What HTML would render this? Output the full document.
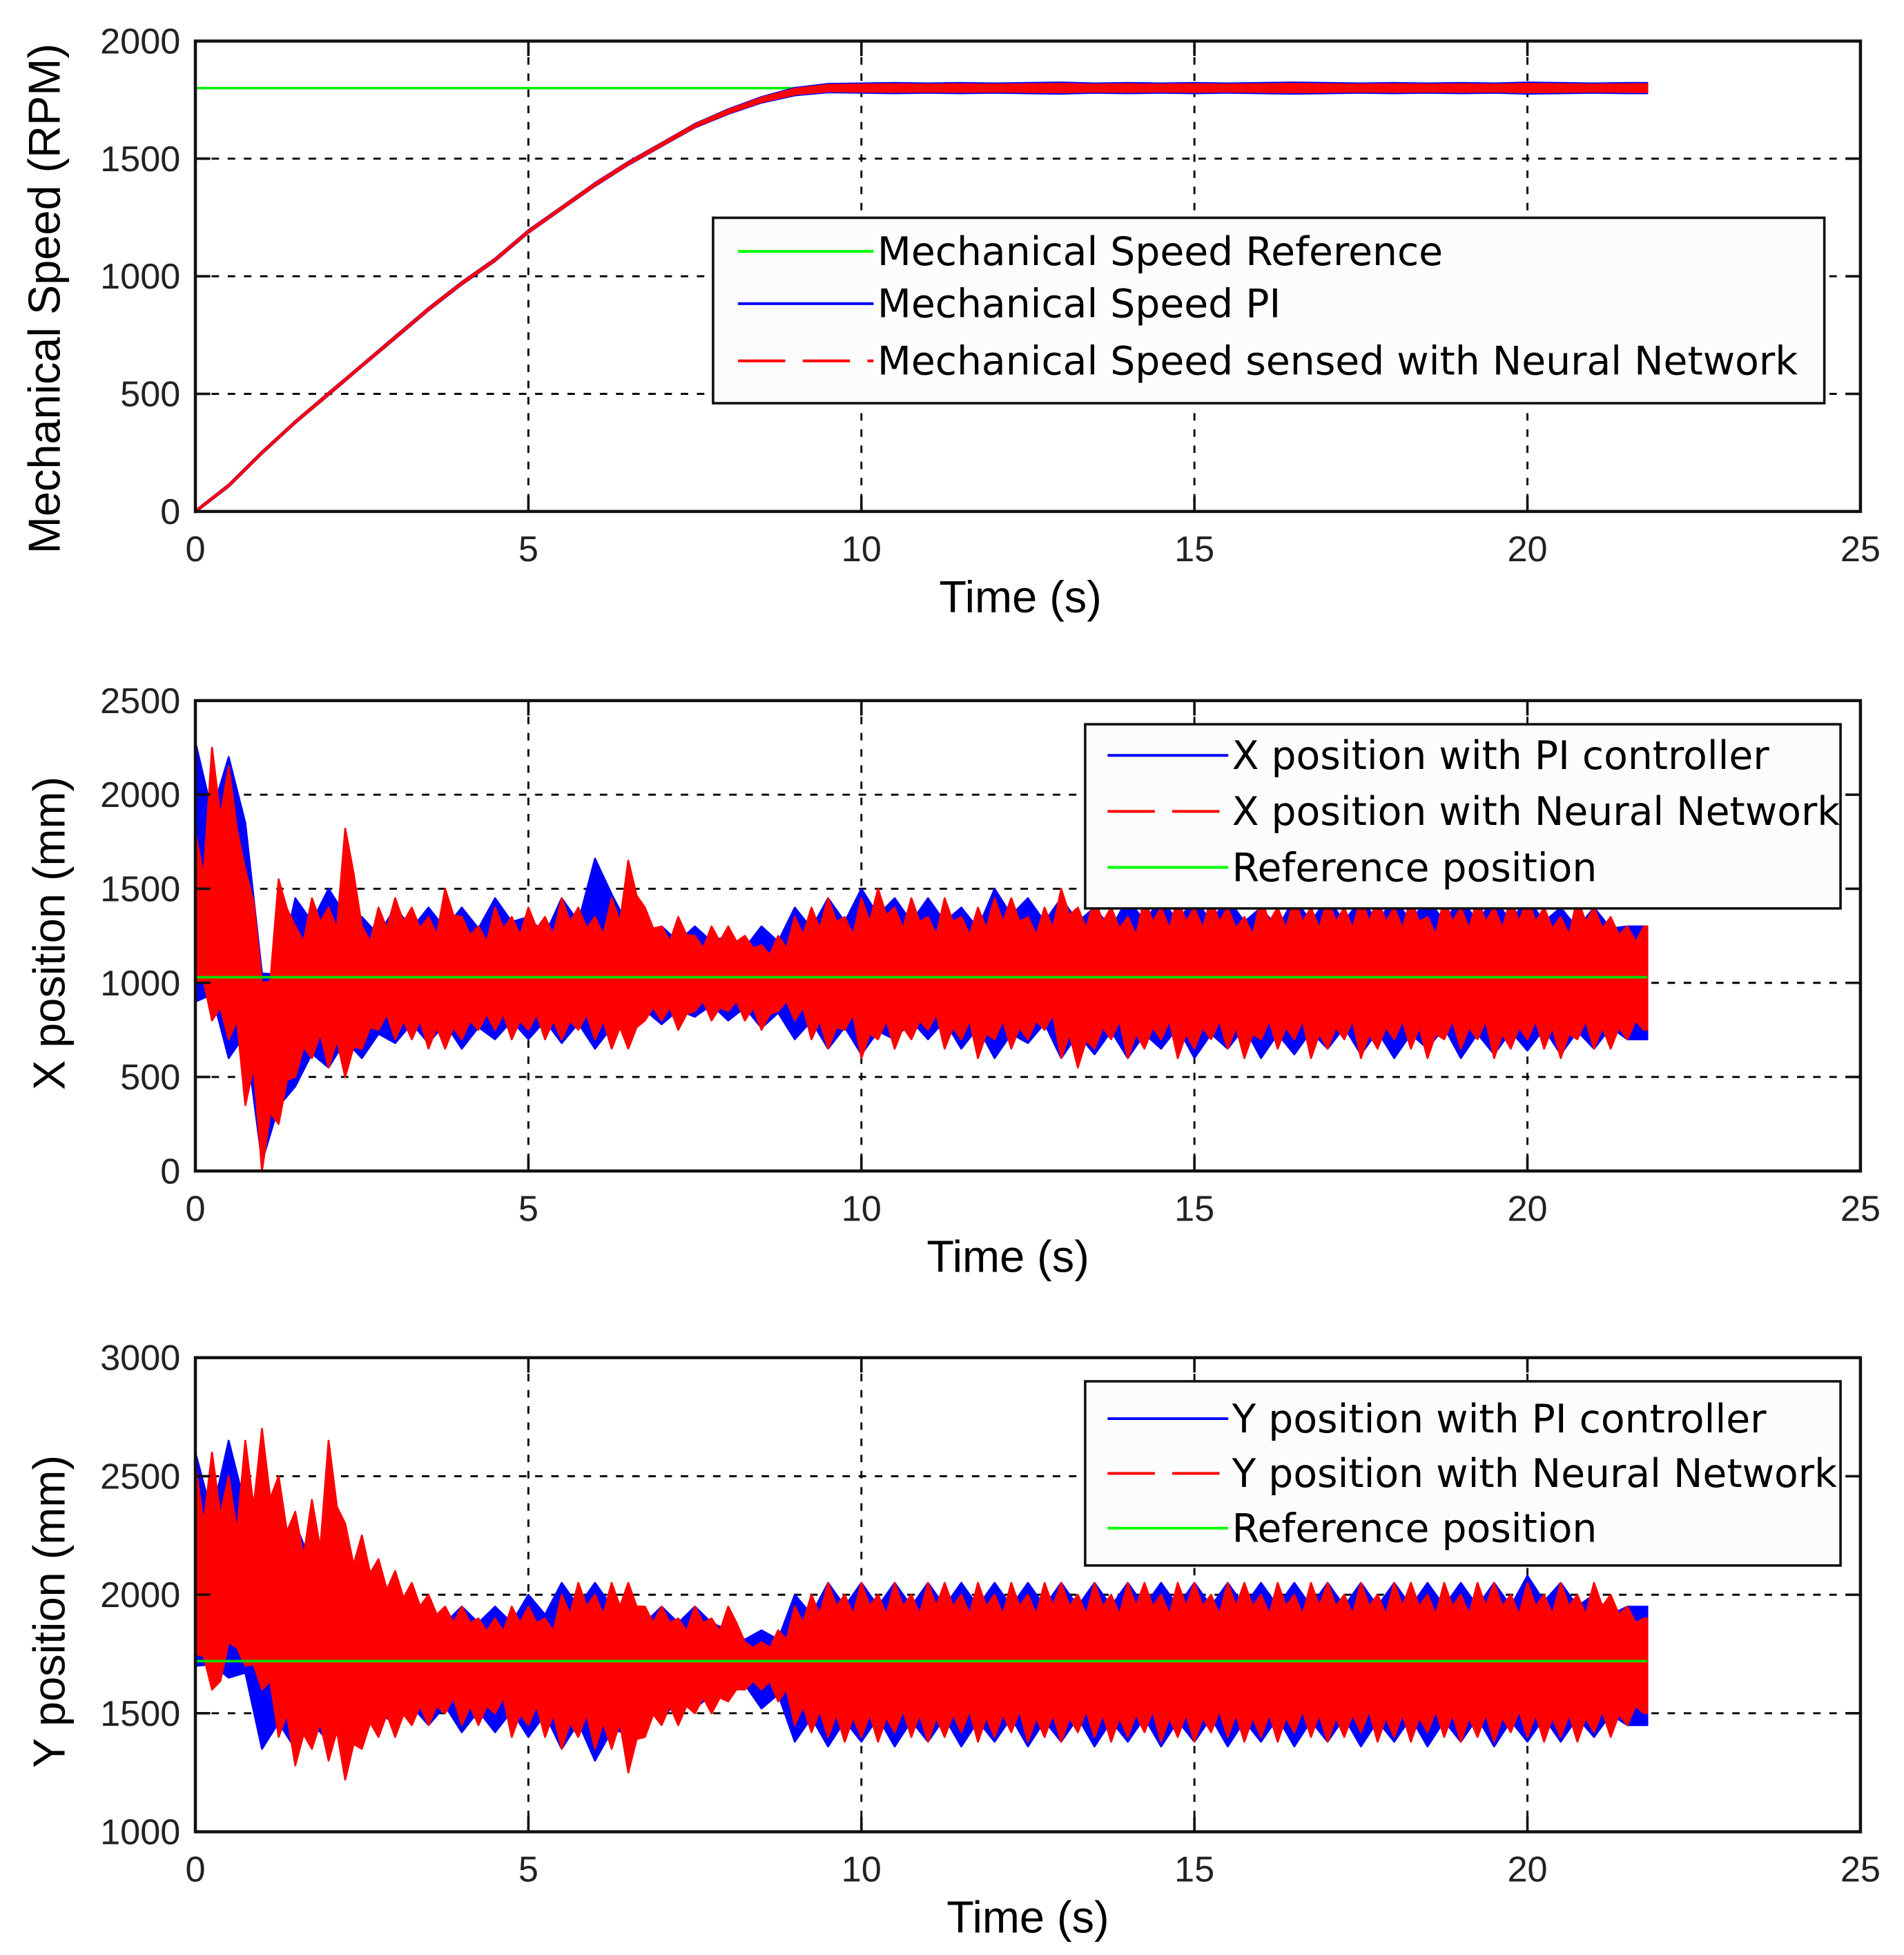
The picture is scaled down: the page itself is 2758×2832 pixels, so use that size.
<!DOCTYPE html>
<html><head><meta charset="utf-8">
<style>
html,body{margin:0;padding:0;background:#fff;}
svg{display:block;}
text{font-family:"Liberation Sans",Arial,sans-serif;}
.leg{font-family:"DejaVu Sans","Liberation Sans",sans-serif;font-size:31.5px;fill:#000;}
</style></head>
<body>
<svg id="fig" xmlns="http://www.w3.org/2000/svg" width="2758" height="2832" viewBox="0 0 1530 1571" preserveAspectRatio="none"></svg>
<script>
// ---------- data ----------
const xTicks = [0,5,10,15,20,25];
const speedTicks = [0,500,1000,1500,2000];
const xposTicks = [0,500,1000,1500,2000,2500];
const yposTicks = [1000,1500,2000,2500,3000];
// speed samples every 0.5 s
const speedPI = [0,110,250,380,500,620,740,860,970,1070,1190,1290,1390,1480,1560,1640,1700,1750,1785,1800,1800,1800,1800,1800,1800,1800,1800,1800,1800,1800,1800,1800,1800,1800,1800,1800,1800,1800,1800,1800,1800,1800,1800,1800];
const speedBand = [4,5,5,5,6,5,6,6,6,6,6,6,7,7,7,8,10,12,16,18,20,22,20,22,20,22,24,20,22,20,22,20,22,24,22,20,22,20,22,20,24,22,20,22];
const speedRef = 1800;
const xRef = 1030;
const yRef = 1720;
// X position envelope every 0.25 s
const xRedHi = [1800,2250,2150,1600,1000,1550,1300,1450,1400,1820,1300,1400,1450,1400,1350,1500,1350,1300,1400,1350,1400,1350,1450,1400,1350,1450,1650,1400,1300,1350,1250,1300,1300,1250,1200,1250,1350,1400,1450,1350,1450,1500,1400,1450,1350,1450,1350,1400,1450,1450,1350,1400,1500,1400,1450,1400,1350,1450,1400,1450,1400,1450,1400,1350,1450,1400,1450,1400,1450,1400,1450,1450,1400,1450,1350,1450,1400,1450,1400,1450,1450,1400,1350,1450,1400,1350,1300,1300];
const xRedLo = [1000,800,700,350,0,250,500,600,550,500,650,750,700,700,650,650,700,750,750,700,750,700,700,750,700,650,650,800,800,750,850,800,850,800,750,850,800,700,650,750,600,700,650,700,750,650,700,600,700,650,700,750,600,550,650,700,600,650,700,600,650,700,650,600,700,650,700,600,650,700,600,650,700,650,600,700,650,700,600,650,700,650,600,700,650,650,700,750];
const xBlueHi = [2280,2200,1050,1450,1500,1350,1400,1400,1400,1450,1350,1450,1660,1300,1300,1300,1250,1300,1400,1450,1500,1450,1450,1400,1500,1450,1450,1400,1450,1450,1450,1450,1400,1450,1450,1450,1450,1450,1450,1450,1450,1400,1400,1300];
const xBlueLo = [900,600,50,450,550,600,680,680,650,700,700,680,650,780,780,820,800,760,700,650,620,700,700,650,600,680,600,620,600,650,600,650,600,620,650,620,600,650,600,620,640,620,650,700];
// Y position envelope every 0.25 s
const yRedHi = [2550,2600,2500,2650,2700,2500,2350,2400,2650,2300,2250,2150,2100,2050,2000,1950,1950,1900,1900,1950,1950,1900,2000,2050,2000,2050,2050,1950,1950,1900,1950,1900,1950,1800,1800,1850,1950,2000,2050,2000,2050,2000,2050,2000,2050,2050,2000,2050,2000,2050,2000,2050,2050,2000,2050,2000,2050,2050,2000,2050,2050,2000,2050,2050,2000,2050,2000,2050,2050,2000,2050,2000,2050,2050,2000,2050,2000,2050,2050,2000,2050,2000,2050,2000,2050,2000,1950,1900];
const yRedLo = [1750,1600,1800,1700,1600,1400,1280,1350,1300,1220,1350,1400,1400,1450,1450,1500,1450,1450,1500,1400,1450,1400,1350,1400,1350,1350,1250,1400,1450,1450,1500,1500,1550,1600,1600,1550,1450,1420,1400,1380,1400,1380,1420,1400,1380,1400,1420,1380,1400,1420,1380,1400,1380,1420,1400,1380,1400,1420,1380,1400,1380,1420,1400,1380,1400,1380,1420,1400,1380,1400,1420,1380,1400,1380,1420,1400,1380,1400,1380,1420,1400,1380,1400,1380,1420,1400,1450,1500];
const yBlueHi = [2600,2650,2400,2300,2200,2050,2000,1950,1950,1950,2000,2050,2050,1950,1950,1950,1850,1850,2000,2050,2050,2050,2050,2050,2050,2050,2050,2050,2050,2050,2050,2050,2050,2050,2050,2050,2050,2050,2050,2050,2080,2050,2000,1950];
const yBlueLo = [1700,1650,1350,1350,1380,1420,1450,1450,1420,1420,1400,1350,1300,1420,1480,1520,1580,1520,1380,1360,1380,1360,1380,1360,1380,1360,1380,1360,1380,1360,1380,1360,1380,1360,1380,1360,1380,1360,1380,1360,1380,1380,1400,1450];

// ---------- drawing ----------
const NS = "http://www.w3.org/2000/svg";
const svg = document.getElementById('fig');
function mk(tag, attrs, parent){
  const e = document.createElementNS(NS, tag);
  for (const k in attrs) e.setAttribute(k, attrs[k]);
  (parent||svg).appendChild(e);
  return e;
}
function chart(cfg){
  const g = mk('g', {});
  
  
  const L=157, R=1495, T=cfg.top, B=cfg.bottom;
  const y0=cfg.yTicks[0], y1=cfg.yTicks[cfg.yTicks.length-1];
  const sx = t => L + (t-0)/(25-0)*(R-L);
  const sy = v => B - (v-y0)/(y1-y0)*(B-T);
  xTicks.forEach(t=>{
    if (t>0 && t<25){
      const l = mk('line',{x1:sx(t),x2:sx(t),y1:T,y2:B,stroke:'#000','stroke-width':1.6,'stroke-dasharray':'6,7'},g);
      
      
    }
    const tx = mk('text',{x:sx(t),y:B+40,'font-size':29,'text-anchor':'middle',fill:'#222'},g);
    tx.textContent = t;
    
    
  });
  cfg.yTicks.forEach(v=>{
    if (v>y0 && v<y1){
      const l = mk('line',{x1:L,x2:R,y1:sy(v),y2:sy(v),stroke:'#000','stroke-width':1.6,'stroke-dasharray':'6,7'},g);
      
      
    }
    const tx = mk('text',{x:L-12,y:sy(v)+10,'font-size':29,'text-anchor':'end',fill:'#222'},g);
    tx.textContent = v;
    
    
  });
  cfg.draw(g, sx, sy);
  const box = mk('rect',{x:L,y:T,width:R-L,height:B-T,fill:'none',stroke:'#111','stroke-width':2.5},g);
  
  
  xTicks.forEach(t=>{ mk('line',{x1:sx(t),x2:sx(t),y1:B,y2:B-12,stroke:'#111','stroke-width':2},g); mk('line',{x1:sx(t),x2:sx(t),y1:T,y2:T+12,stroke:'#111','stroke-width':2},g); });
  cfg.yTicks.forEach(v=>{ mk('line',{x1:L,x2:L+12,y1:sy(v),y2:sy(v),stroke:'#111','stroke-width':2},g); mk('line',{x1:R,x2:R-12,y1:sy(v),y2:sy(v),stroke:'#111','stroke-width':2},g); });
  const xl = mk('text',{x:cfg.xlx,y:B+81,'font-size':36,'text-anchor':'middle',fill:'#000'},g);
  xl.textContent = 'Time (s)';
  
  
  const yl = mk('text',{x:0,y:0,'font-size':36,'text-anchor':'middle',fill:'#000',transform:`translate(${cfg.ylx},${cfg.yly}) rotate(-90)`},g);
  yl.textContent = cfg.ylabel;
  
  
  const lg = cfg.legend;
  const lgr = mk('rect',{x:lg.x,y:lg.y,width:lg.w,height:lg.h,fill:'#fcfcfc',stroke:'#111','stroke-width':2},g);
  
  
  lg.items.forEach((it,i)=>{
    const yy = lg.rows[i];
    const ln = mk('line',{x1:lg.lx1,x2:lg.lx2,y1:yy,y2:yy,stroke:it.c,'stroke-width':2.2},g);
    if (it.dash) ln.setAttribute('stroke-dasharray','38,14');
    
    
    const tx = mk('text',{x:lg.lx2+3,y:yy+11,'class':'leg'},g);
    tx.textContent = it.t;
    
    
  });
}
function band(g, sx, sy, hi, lo, dt, ref, color, name, tmax){
  let up=[], dn=[];
  const n=Math.min(hi.length, lo.length);
  for(let i=0;i<n;i++){
    const t=Math.min(i*dt,tmax);
    up.push(sx(t)+','+sy(hi[i]));
    dn.push(sx(t)+','+sy(lo[i]));
    if(i<n-1 && ref!==null){
      const tm=Math.min(i*dt+dt/2,tmax);
      up.push(sx(tm)+','+sy(0.7*hi[i]+0.3*ref));
      dn.push(sx(tm)+','+sy(0.7*lo[i]+0.3*ref));
    }
  }
  const last=Math.min((n-1)*dt,tmax);
  if (last<tmax){ up.push(sx(tmax)+','+sy(hi[n-1])); dn.push(sx(tmax)+','+sy(lo[n-1])); }
  const p = mk('polygon',{points:up.concat(dn.reverse()).join(' '),fill:color,stroke:color,'stroke-width':1.5,'stroke-linejoin':'round'},g);
  
  
}
const TMAX = 21.8;
chart({name:'speed-chart',top:33,bottom:411,yTicks:speedTicks,ylabel:'Mechanical Speed (RPM)',ylx:48,yly:240,xlx:820,
  draw:(g,sx,sy)=>{
    const r = mk('line',{x1:sx(0),x2:sx(TMAX),y1:sy(speedRef),y2:sy(speedRef),stroke:'#00ee00','stroke-width':2},g);
    
    
    band(g,sx,sy,speedPI.map((v,i)=>v+speedBand[i]),speedPI.map((v,i)=>v-speedBand[i]),0.5,null,'#0000ff','speed-pi-band',TMAX);
    band(g,sx,sy,speedPI.map((v,i)=>v+speedBand[i]*0.75),speedPI.map((v,i)=>v-speedBand[i]*0.75),0.5,null,'#ff0000','speed-nn-band',TMAX);
  },
  legend:{x:573,y:175,w:893,h:149,lx1:593,lx2:702,rows:[202,244,290],items:[
    {c:'#00ff00',t:'Mechanical Speed Reference'},{c:'#0000ff',t:'Mechanical Speed PI'},{c:'#ff0000',dash:true,t:'Mechanical Speed sensed with Neural Network'}]}
});
chart({name:'x-position-chart',top:563,bottom:941,yTicks:xposTicks,ylabel:'X position (mm)',ylx:52,yly:750,xlx:810,
  draw:(g,sx,sy)=>{
    band(g,sx,sy,xBlueHi,xBlueLo,0.5,xRef,'#0000ff','x-pi-band',TMAX);
    band(g,sx,sy,xRedHi,xRedLo,0.25,xRef,'#ff0000','x-nn-band',TMAX);
    const r = mk('line',{x1:sx(0),x2:sx(TMAX),y1:sy(xRef),y2:sy(xRef),stroke:'#00dd00','stroke-width':2},g);
    
    
  },
  legend:{x:872,y:582,w:607,h:148,lx1:890,lx2:987,rows:[607,652,697],items:[
    {c:'#0000ff',t:'X position with PI controller'},{c:'#ff0000',dash:true,t:'X position with Neural Network'},{c:'#00ff00',t:'Reference position'}]}
});
chart({name:'y-position-chart',top:1091,bottom:1472,yTicks:yposTicks,ylabel:'Y position (mm)',ylx:52,yly:1295,xlx:826,
  draw:(g,sx,sy)=>{
    band(g,sx,sy,yBlueHi,yBlueLo,0.5,yRef,'#0000ff','y-pi-band',TMAX);
    band(g,sx,sy,yRedHi,yRedLo,0.25,yRef,'#ff0000','y-nn-band',TMAX);
    const r = mk('line',{x1:sx(0),x2:sx(TMAX),y1:sy(yRef),y2:sy(yRef),stroke:'#00dd00','stroke-width':2},g);
    
    
  },
  legend:{x:872,y:1110,w:607,h:148,lx1:890,lx2:987,rows:[1140,1184,1228],items:[
    {c:'#0000ff',t:'Y position with PI controller'},{c:'#ff0000',dash:true,t:'Y position with Neural Network'},{c:'#00ff00',t:'Reference position'}]}
});
</script>
</body></html>
